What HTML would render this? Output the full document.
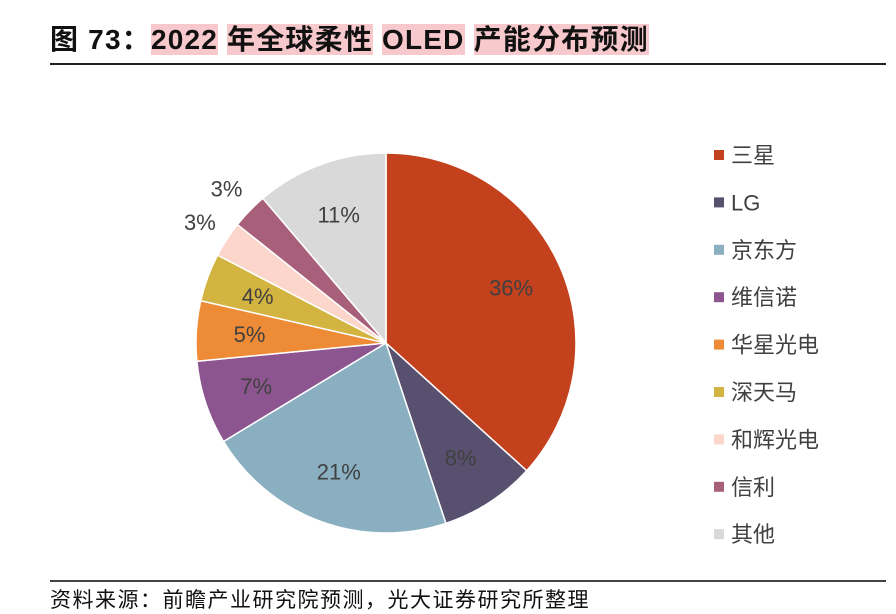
<!DOCTYPE html>
<html><head><meta charset="utf-8"><style>
body{margin:0;width:896px;height:610px;background:#fff;overflow:hidden;font-family:"Liberation Sans","Noto Sans CJK SC",sans-serif;position:relative}
.t{position:absolute;left:50px;top:18px;font-size:28px;font-weight:bold;color:#111;white-space:nowrap;letter-spacing:1.2px}
.t span{background:#f8c9cc}
</style></head><body>
<div class="t">图 73：<span>2022</span> <span>年全球柔性</span> <span>OLED</span> <span>产能分布预测</span></div>
<div style="position:absolute;left:50px;top:63px;width:836px;height:2px;background:#222"></div>
<svg id="c" width="896" height="610" style="position:absolute;left:0;top:0"></svg>
<div style="position:absolute;left:50px;top:580px;width:836px;height:2px;background:#444"></div>
<div style="position:absolute;left:50px;top:584px;font-size:21px;letter-spacing:1.5px;color:#111;white-space:nowrap">资料来源：前瞻产业研究院预测，光大证券研究所整理</div>
<script>
const categories=["三星","LG","京东方","维信诺","华星光电","深天马","和辉光电","信利","其他"];
const values=[36,8,21,7,5,4,3,3,11];
const colors=["#C4411E","#58506F","#8AAFC1","#8C5590","#EE8B36","#D3B441","#FCD6CA","#A8607A","#D9D9D9"];
const svg=document.getElementById('c');
const NS="http://www.w3.org/2000/svg";
const cx=386,cy=343,r=190;
const total=values.reduce((a,b)=>a+b,0);
function pt(a,rr){return [cx+rr*Math.sin(a),cy-rr*Math.cos(a)];}
let a0=0;
values.forEach((v,i)=>{
  const a1=a0+v/total*2*Math.PI;
  const p0=pt(a0,r),p1=pt(a1,r);
  const large=(a1-a0)>Math.PI?1:0;
  const path=document.createElementNS(NS,'path');
  path.setAttribute('d',`M${cx},${cy}L${p0[0]},${p0[1]}A${r},${r} 0 ${large} 1 ${p1[0]},${p1[1]}Z`);
  path.setAttribute('fill',colors[i]);
  path.setAttribute('stroke','#fff');path.setAttribute('stroke-width','1.5');
  
  
  svg.appendChild(path);
  const am=(a0+a1)/2;
  const outside=v<=3;
  const lp=pt(am,outside?r+32:r*0.72);
  const t=document.createElementNS(NS,'text');
  t.setAttribute('x',lp[0]);t.setAttribute('y',lp[1]+8);
  t.setAttribute('text-anchor','middle');t.setAttribute('font-size','22');
  t.setAttribute('fill','#404040');
  t.textContent=v+'%';
  
  
  svg.appendChild(t);
  const ly=155+i*47.4;
  const sq=document.createElementNS(NS,'rect');
  sq.setAttribute('x',714);sq.setAttribute('y',ly-5);sq.setAttribute('width',10);sq.setAttribute('height',10);
  sq.setAttribute('fill',colors[i]);
  
  
  svg.appendChild(sq);
  const lt=document.createElementNS(NS,'text');
  lt.setAttribute('x',731);lt.setAttribute('y',ly+8);lt.setAttribute('font-size','22');lt.setAttribute('fill','#404040');
  lt.textContent=categories[i];
  
  
  svg.appendChild(lt);
  a0=a1;
});
</script>
</body></html>
